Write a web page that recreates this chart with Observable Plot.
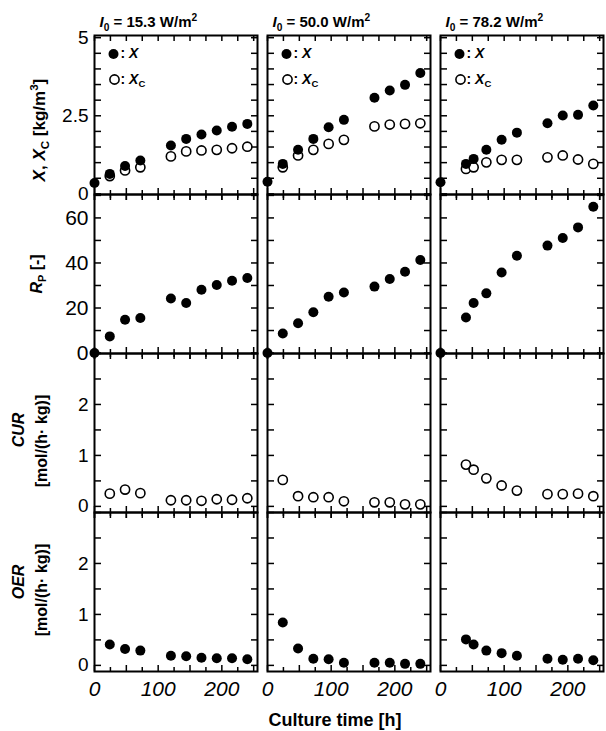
<!DOCTYPE html>
<html>
<head>
<meta charset="utf-8">
<script src="https://cdn.jsdelivr.net/npm/d3@7"></script>
<script src="https://cdn.jsdelivr.net/npm/@observablehq/plot@0.6"></script>
<style>
  body { margin: 0; background: #fff; }
  #chart { width: 606px; }
  #chart svg { display: block; overflow: visible; }
</style>
</head>
<body>
<div id="chart"></div>
<script>
// ---------- categories & labels ----------
const conditions = ["15.3", "50.0", "78.2"];
const headerLabels = [
  "<i>I</i><sub>0</sub> = 15.3 W/m<sup>2</sup>",
  "<i>I</i><sub>0</sub> = 50.0 W/m<sup>2</sup>",
  "<i>I</i><sub>0</sub> = 78.2 W/m<sup>2</sup>"
];
const rowTitleX = "<i>X</i>, <i>X</i><sub>C</sub> [kg/m<sup>3</sup>]";
const rowTitleRp = "<i>R</i><sub>P</sub> [-]";
const rowTitleCUR = ["<i>CUR</i>", "[mol/(h· kg)]"];
const rowTitleOER = ["<i>OER</i>", "[mol/(h· kg)]"];
const legendX = ": <i>X</i>";
const legendXc = ": <i>X</i><sub>C</sub>";
const xTitle = "Culture time [h]";

// ---------- tick values ----------
const xTicksAll = [0, 25, 50, 75, 100, 125, 150, 175, 200, 225, 250];
const xTicksMajor = [0, 50, 100, 150, 200, 250];
const xTicksMinor = [25, 75, 125, 175, 225];
const xTickLabels = [0, 100, 200];
const yTicksX = [0, 0.5, 1, 1.5, 2, 2.5, 3, 3.5, 4, 4.5, 5];
const yLabelsX = [0, 2.5, 5];
const yTicksRp = [0, 10, 20, 30, 40, 50, 60, 70];
const yLabelsRp = [0, 20, 40, 60];
const yTicksRate = [0, 0.5, 1, 1.5, 2, 2.5, 3];
const yLabelsRate = [0, 1, 2];

// ---------- I0 = 15.3 W/m2 ----------
const t15 = [0, 24, 48, 72, 120, 144, 168, 192, 216, 240];
const X15 = [0.35, 0.64, 0.89, 1.07, 1.55, 1.76, 1.90, 2.03, 2.15, 2.24];
const Rp15 = [0, 7.4, 14.8, 15.6, 24.2, 22.2, 28.1, 30.2, 32.1, 33.3];
const tc15 = [24, 48, 72, 120, 144, 168, 192, 216, 240];
const Xc15 = [0.57, 0.75, 0.85, 1.20, 1.36, 1.39, 1.41, 1.46, 1.51];
const CUR15 = [0.25, 0.33, 0.26, 0.12, 0.12, 0.11, 0.14, 0.13, 0.16];
const OER15 = [0.41, 0.32, 0.29, 0.19, 0.18, 0.15, 0.14, 0.14, 0.12];

// ---------- I0 = 50.0 W/m2 ----------
const t50 = [0, 24, 48, 72, 96, 120, 168, 192, 216, 240];
const X50 = [0.39, 0.96, 1.41, 1.76, 2.13, 2.37, 3.08, 3.31, 3.49, 3.87];
const Rp50 = [0, 8.7, 13.2, 18.1, 25.0, 26.9, 29.5, 32.9, 36.1, 41.3];
const tc50 = [24, 48, 72, 96, 120, 168, 192, 216, 240];
const Xc50 = [0.85, 1.23, 1.41, 1.60, 1.73, 2.16, 2.22, 2.24, 2.26];
const CUR50 = [0.52, 0.20, 0.18, 0.18, 0.10, 0.08, 0.08, 0.04, 0.04];
const OER50 = [0.84, 0.33, 0.13, 0.12, 0.05, 0.05, 0.05, 0.03, 0.03];

// ---------- I0 = 78.2 W/m2 ----------
const t78 = [0, 40, 52, 72, 96, 120, 168, 192, 216, 240];
const X78 = [0.37, 0.96, 1.12, 1.41, 1.73, 1.96, 2.26, 2.51, 2.53, 2.83];
const Rp78 = [0, 15.8, 22.2, 26.5, 35.8, 43.2, 47.7, 51.1, 55.8, 65.0];
const tc78 = [40, 52, 72, 96, 120, 168, 192, 216, 240];
const Xc78 = [0.80, 0.85, 1.01, 1.09, 1.09, 1.17, 1.23, 1.10, 0.96];
const CUR78 = [0.82, 0.72, 0.55, 0.41, 0.31, 0.24, 0.24, 0.25, 0.20];
const OER78 = [0.51, 0.41, 0.29, 0.24, 0.19, 0.13, 0.11, 0.13, 0.10];

// ---------- tables built from the arrays ----------
const pairs = (cond, ts, vs) => ts.map((t, i) => ({cond, t, v: vs[i]}));
const dataX   = [...pairs("15.3", t15, X15), ...pairs("50.0", t50, X50), ...pairs("78.2", t78, X78)];
const dataXc  = [...pairs("15.3", tc15, Xc15), ...pairs("50.0", tc50, Xc50), ...pairs("78.2", tc78, Xc78)];
const dataRp  = [...pairs("15.3", t15, Rp15), ...pairs("50.0", t50, Rp50), ...pairs("78.2", t78, Rp78)];
const dataCUR = [...pairs("15.3", tc15, CUR15), ...pairs("50.0", tc50, CUR50), ...pairs("78.2", tc78, CUR78)];
const dataOER = [...pairs("15.3", tc15, OER15), ...pairs("50.0", tc50, OER50), ...pairs("78.2", tc78, OER78)];

// ---------- layout ----------
const W = 606, ML = 93, MR = 2;
const FONT = "'Liberation Sans', Arial, Helvetica, sans-serif";
const TW = 1.5; // tick stroke width

// inward / crossing ticks: outward ticks shifted back by their own length
const tickLeft = (ticks, len) => Plot.axisY({anchor: "left", ticks, tickSize: len, dx: len, fill: "none", facetAnchor: null, strokeWidth: TW});
const tickRight = (ticks, len) => Plot.axisY({anchor: "right", ticks, tickSize: len, dx: -len, fill: "none", facetAnchor: null, strokeWidth: TW});
const tickTop = (ticks, len) => Plot.axisX({anchor: "top", ticks, tickSize: len, dy: len, fill: "none", facetAnchor: null, strokeWidth: TW});
const tickBottom = (ticks, up, down) => Plot.axisX({anchor: "bottom", ticks, tickSize: up + down, dy: -up, fill: "none", facetAnchor: null, strokeWidth: TW});

function panelRow({height, marginTop = 0, marginBottom = 0, yDomain, yTicks, yLabels, yFont, bottomCross, xLabels, marks}) {
  return Plot.plot({
    width: W, height, marginLeft: ML, marginRight: MR, marginTop, marginBottom,
    style: {fontFamily: FONT, overflow: "visible", background: "transparent", color: "black"},
    fx: {domain: conditions, paddingInner: 0.06, paddingOuter: 0, axis: null},
    x: {domain: [0, 256]},
    y: {domain: yDomain},
    marks: [
      tickLeft(yTicks, 7),
      tickRight(yTicks, 7),
      Plot.axisY({anchor: "left", ticks: yLabels, tickSize: 0, tickPadding: 6, fontSize: yFont,
        tickFormat: d => String(d), facetAnchor: "left", label: null}),
      tickTop(xTicksAll, 5),
      tickBottom(xTicksMinor, 4, bottomCross ? 4 : 0),
      tickBottom(xTicksMajor, 6, bottomCross ? 6 : 0),
      xLabels
        ? Plot.axisX({anchor: "bottom", ticks: xTickLabels, tickSize: 0, tickPadding: 10, fontSize: 21,
            fontStyle: "italic", tickFormat: d => String(d), facetAnchor: null, label: null})
        : null,
      Plot.frame({strokeWidth: 2}),
      ...marks
    ]
  });
}

const filled = (data) => Plot.dot(data, {x: "t", y: "v", fx: "cond", r: 5, fill: "black"});
const open = (data) => Plot.dot(data, {x: "t", y: "v", fx: "cond", r: 4.6, fill: "white", stroke: "black", strokeWidth: 1.6});
const rowTitle = (label, dx, dy = 0, fontSize = 16) =>
  Plot.text([conditions[0]], {fx: d => d, text: () => label, frameAnchor: "left", dx, dy, rotate: -90,
    textAnchor: "middle", lineAnchor: "middle", fontSize, fontWeight: "bold"});
const cornerText = (label, dx, dy, fontSize) =>
  Plot.text(conditions, {fx: d => d, text: (d, i) => (Array.isArray(label) ? label[i] : label), frameAnchor: "top-left",
    dx, dy, textAnchor: "start", lineAnchor: "middle", fontSize, fontWeight: "bold"});

// Row 1: X and Xc
const row1 = panelRow({
  height: 194, marginTop: 35, yDomain: [-0.02, 5.07], yTicks: yTicksX, yLabels: yLabelsX, yFont: 19, bottomCross: true,
  marks: [
    cornerText(headerLabels, 5, -13, 15),
    Plot.dot(conditions, {fx: d => d, frameAnchor: "top-left", dx: 19, dy: 18.5, r: 5, fill: "black"}),
    Plot.dot(conditions, {fx: d => d, frameAnchor: "top-left", dx: 20, dy: 44, r: 4.6, fill: "white", stroke: "black", strokeWidth: 1.6}),
    cornerText(legendX, 26, 18.5, 14),
    cornerText(legendXc, 26, 44, 14),
    rowTitle(rowTitleX, -55, 15, 17),
    open(dataXc),
    filled(dataX)
  ]
});

// Row 2: Rp
const row2 = panelRow({
  height: 159, yDomain: [-0.2, 70.4], yTicks: yTicksRp, yLabels: yLabelsRp, yFont: 21, bottomCross: true,
  marks: [rowTitle(rowTitleRp, -58, 0), filled(dataRp)]
});

// Row 3: CUR
const row3 = panelRow({
  height: 159, yDomain: [-0.12, 3.0], yTicks: yTicksRate, yLabels: yLabelsRate, yFont: 19, bottomCross: true,
  marks: [rowTitle(rowTitleCUR[0], -76, -3), rowTitle(rowTitleCUR[1], -53, 8), open(dataCUR)]
});

// Row 4: OER
const row4 = panelRow({
  height: 219, marginBottom: 60, yDomain: [-0.12, 3.0], yTicks: yTicksRate, yLabels: yLabelsRate, yFont: 19,
  bottomCross: false, xLabels: true,
  marks: [
    rowTitle(rowTitleOER[0], -76, -10), rowTitle(rowTitleOER[1], -53, -2), filled(dataOER),
    Plot.text([conditions[1]], {fx: d => d, text: () => xTitle, frameAnchor: "bottom", dx: -14, dy: 49,
      textAnchor: "middle", lineAnchor: "middle", fontSize: 18, fontWeight: "bold"})
  ]
});

const chart = document.getElementById("chart");
[row1, row2, row3, row4].forEach(p => chart.appendChild(p));

// ---------- rich text (italic / sub / sup) for labels ----------
function richify(root) {
  const NS = "http://www.w3.org/2000/svg";
  root.querySelectorAll("text").forEach(el => {
    const s = el.textContent;
    if (!/<\/?(i|sub|sup)>/.test(s)) return;
    const cs = getComputedStyle(el);
    const fs = parseFloat(cs.fontSize) || 12;
    const anchor = cs.textAnchor;
    while (el.firstChild) el.removeChild(el.firstChild);
    const re = /<(\/?)(i|sub|sup)>|([^<]+)/g;
    let italic = false, mode = null, cur = 0, m;
    while ((m = re.exec(s))) {
      if (m[2]) {
        const closing = m[1] === "/";
        if (m[2] === "i") italic = !closing; else mode = closing ? null : m[2];
        continue;
      }
      const target = mode === "sub" ? 0.25 * fs : mode === "sup" ? -0.42 * fs : 0;
      const ts = document.createElementNS(NS, "tspan");
      ts.textContent = m[3];
      if (italic) ts.setAttribute("font-style", "italic");
      if (mode) ts.setAttribute("font-size", (0.68 * fs).toFixed(1));
      if (target !== cur) { ts.setAttribute("dy", (target - cur).toFixed(1)); cur = target; }
      el.appendChild(ts);
    }
    if (anchor === "middle" || anchor === "end") {
      const len = el.getComputedTextLength();
      const x0 = parseFloat(el.getAttribute("x")) || 0;
      el.setAttribute("text-anchor", "start");
      el.setAttribute("x", (x0 - (anchor === "middle" ? len / 2 : len)).toFixed(1));
    }
  });
}
richify(chart);
</script>
</body>
</html>
